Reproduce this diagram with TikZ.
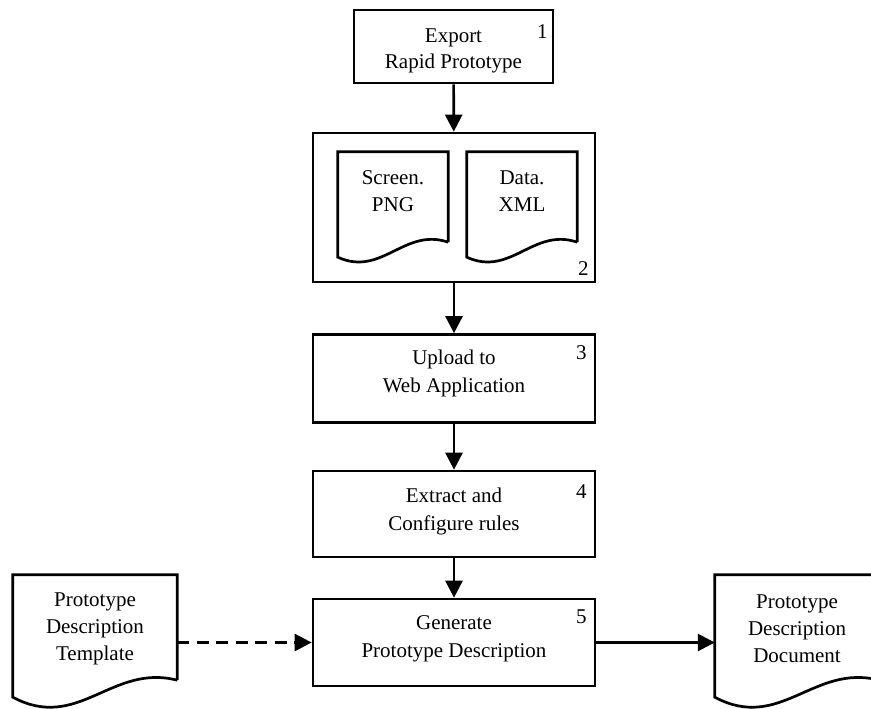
\documentclass[tikz,border=0pt]{standalone}
\usepackage{fontspec}
\setmainfont{Liberation Serif}
\usetikzlibrary{arrows.meta,calc}

% outline of a document symbol around a borderless node:
% #1 node, #2 width, #3 drop of the left bottom corner below the node,
% #4 / #5 vertical pull of the two control points of the wavy bottom
\newcommand{\docoutline}[5]{%
  \draw[outline] (#1.south east) -- (#1.north east) -- (#1.north west)
    -- ($(#1.south west)+(0,#3)$)
    .. controls +(0.4*#2,#4) and +(-0.4*#2,-#5) .. (#1.south east);}

\begin{document}
\begin{tikzpicture}[x=1pt,y=-1pt,
  every node/.style={inner sep=0pt, align=center},
  outline/.style={line width=2.7pt, line join=miter},
  procbox/.style={draw, line width=2.7pt, minimum width=282pt},
  docshape/.style={minimum width=#1},
  label/.style={font=\fontsize{21}{28}\selectfont},
  doclabel/.style={font=\fontsize{21}{27}\selectfont},
  stepnum/.style={font=\fontsize{21}{24}\selectfont},
  flow/.style={line width=2.7pt, -{Triangle[length=17pt,width=17pt]}}]

\clip (0,0) rectangle (871,709);
\fill[white] (0,0) rectangle (871,709);

% process boxes
\node[procbox, minimum width=199pt, minimum height=73pt] (b1) at (453.5,46.5) {};
\node[procbox, minimum height=149pt] (b2) at (454,207.5) {};
\node[procbox, minimum height=88pt] (b3) at (454,378.5) {};
\node[procbox, minimum height=86pt] (b4) at (454,514) {};
\node[procbox, minimum height=87pt] (b5) at (454,642.5) {};

% box captions
\node[label, font=\fontsize{21}{26}\selectfont] (t1) at ($(b1.center)+(0,4)$)
  {Export\\Rapid Prototype};
\node[label] (t3) at ($(b3.center)+(0,-5)$) {Upload to\\Web Application};
\node[label] (t4) at ($(b4.center)+(0,-3)$) {Extract and\\Configure rules};
\node[label] (t5) at ($(b5.center)+(0,-3.5)$) {Generate\\Prototype Description};

% step numbers
\node[stepnum] (n1) at ($(b1.north east)+(-12,23)$) {1};
\node[stepnum] (n2) at ($(b2.south east)+(-13,-15)$) {2};
\node[stepnum] (n3) at ($(b3.north east)+(-15,19)$) {3};
\node[stepnum] (n4) at ($(b4.north east)+(-15,22)$) {4};
\node[stepnum] (n5) at ($(b5.north east)+(-15,19)$) {5};

% exported files inside step 2
\node[docshape=110pt, minimum height=90pt] (scr) at (393,197) {};
\node[docshape=110pt, minimum height=90pt] (dat) at (522,197) {};
\docoutline{scr}{110}{15}{20}{15}
\docoutline{dat}{110}{15}{20}{15}
\node[doclabel] (tscr) at ($(scr.center)+(0,-5.5)$) {Screen.\\PNG};
\node[doclabel] (tdat) at ($(dat.center)+(0,-5.5)$) {Data.\\XML};

% template and resulting document
\node[docshape=164pt, minimum height=105pt] (tmpl) at (95,627.5) {};
\node[docshape=164pt, minimum height=105pt] (out) at (797,627.5) {};
\docoutline{tmpl}{164}{17}{35}{17}
\docoutline{out}{164}{17}{35}{17}
\node[doclabel] (ttmpl) at ($(tmpl.center)+(0,1.5)$) {Prototype\\Description\\Template};
\node[doclabel] (tout) at ($(out.center)+(0,1.5)$) {Prototype\\Description\\Document};

% flow
\draw[flow] (b1) -- (b2);
\draw[flow] (b2) -- (b3);
\draw[flow] (b3) -- (b4);
\draw[flow] (b4) -- (b5);
\draw[flow, dash pattern=on 12pt off 7.5pt] (b5.west -| tmpl.east) -- (b5.west);
\draw[flow] (b5.east) -- (b5.east -| out.west);
\end{tikzpicture}
\end{document}
